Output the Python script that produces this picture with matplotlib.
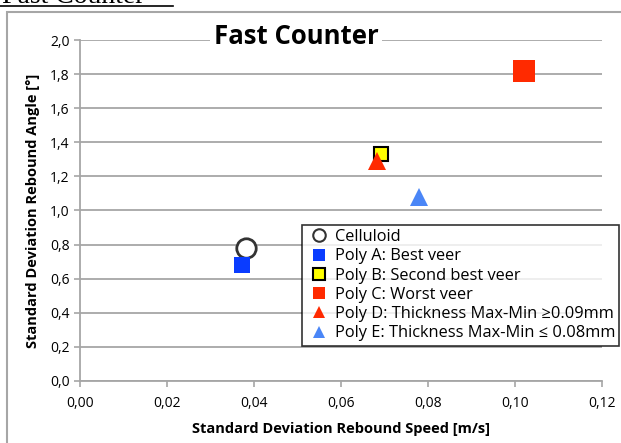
import matplotlib
matplotlib.use('Agg')
import matplotlib.pyplot as plt
from matplotlib.lines import Line2D
from matplotlib.patches import Rectangle
import matplotlib.ticker as mticker

plt.rcParams['font.family'] = ['Open Sans', 'DejaVu Sans']

# data
labels = ['Celluloid', 'Poly A: Best veer', 'Poly B: Second best veer',
          'Poly C: Worst veer', 'Poly D: Thickness Max-Min \u22650.09mm',
          'Poly E: Thickness Max-Min \u2264 0.08mm']
speed_sd = [0.0382, 0.0372, 0.0692, 0.1020, 0.0683, 0.0779]
angle_sd = [0.78, 0.68, 1.33, 1.82, 1.29, 1.08]

markers = ['o', 's', 's', 's', '^', '^']
faces = ['white', '#0a3cff', '#ffff00', '#ff2a00', '#ff2a00', '#4a86f7']
edges = ['#333333', '#0a3cff', 'black', '#ff2a00', '#ff2a00', '#4a86f7']
sizes = [14, 12, 10, 16, 13, 13]
edge_w = [2, 0, 1.5, 0, 0, 0]

W, H = 621, 443
fig = plt.figure(figsize=(W / 100, H / 100), dpi=100)
ax = fig.add_axes([80 / W, 1 - 381 / H, (602 - 80) / W, (381 - 40) / H])

for i in range(len(labels)):
    ax.plot(speed_sd[i], angle_sd[i], marker=markers[i], ms=sizes[i],
            mfc=faces[i], mec=edges[i], mew=edge_w[i], ls='none',
            zorder=3, clip_on=False)

ax.set_xlim(0, 0.12)
ax.set_ylim(0, 2.0)
ax.xaxis.set_major_locator(mticker.MultipleLocator(0.02))
ax.yaxis.set_major_locator(mticker.MultipleLocator(0.2))
ax.xaxis.set_major_formatter(mticker.FuncFormatter(lambda v, p: f'{v:.2f}'.replace('.', ',')))
ax.yaxis.set_major_formatter(mticker.FuncFormatter(lambda v, p: f'{v:.1f}'.replace('.', ',')))
ax.grid(axis='y', color='#a6a6a6', lw=1.3)
ax.set_axisbelow(True)
for s in ['top', 'right']:
    ax.spines[s].set_visible(False)
for s in ['left', 'bottom']:
    ax.spines[s].set_color('#a6a6a6')
    ax.spines[s].set_linewidth(1.3)
ax.tick_params(colors='#a6a6a6', labelcolor='black', labelsize=10, length=4, width=1.2)
ax.tick_params(axis='x', pad=7)
ax.set_xlabel('Standard Deviation Rebound Speed [m/s]', fontsize=10.5, fontweight='bold', labelpad=8)
ax.set_ylabel('Standard Deviation Rebound Angle [\u00b0]', fontsize=10.5, fontweight='bold', labelpad=7)

# chart title sitting on the top gridline
fig.text(296 / W, 1 - 37 / H, 'Fast Counter', fontsize=18.5, fontweight='bold',
         ha='center', va='center',
         bbox=dict(facecolor='white', edgecolor='none', pad=3))

# legend box
handles = [Line2D([], [], marker=markers[i], ls='none', ms=9,
                  mfc=faces[i], mec=edges[i], mew=1.5 if edge_w[i] else 0)
           for i in range(len(labels))]
leg = fig.legend(handles, labels, loc='upper left',
                 bbox_to_anchor=(302 / W, 1 - 225 / H), fontsize=11.8,
                 frameon=True, fancybox=False, edgecolor='black',
                 handlelength=1.6, handletextpad=0.15, labelspacing=0.2,
                 borderpad=0.25, borderaxespad=0)
leg.get_frame().set_linewidth(1.2)

# outer chart frame
fig.patches.append(Rectangle((7 / W, -0.1), 1.0, 1 - 12 / H + 0.1,
                             transform=fig.transFigure, fill=False,
                             edgecolor='#a6a6a6', lw=1.5))

# cropped heading above the chart
fig.text(2 / W, 1 - 3 / H, 'Fast Counter', fontsize=20, family='Liberation Serif',
         ha='left', va='baseline')
fig.add_artist(Line2D([0, 173 / W], [1 - 5.5 / H, 1 - 5.5 / H], color='black', lw=1.2,
                      transform=fig.transFigure))

fig.savefig('out.png', dpi=100)
